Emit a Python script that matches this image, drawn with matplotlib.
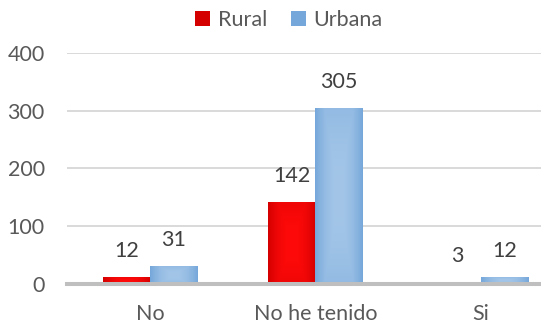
import numpy as np
import matplotlib
matplotlib.use("Agg")
import matplotlib.pyplot as plt
from matplotlib.patches import Patch
from matplotlib.colors import to_rgb

categories = ["No", "No he tenido", "Si"]
rural = [12, 142, 3]
urbana = [31, 305, 12]
series_names = ["Rural", "Urbana"]
yticks = [0, 100, 200, 300, 400]

plt.rcParams["font.family"] = ["Lato", "DejaVu Sans"]
FS = 15.5

fig = plt.figure(figsize=(5.41, 3.28), dpi=100)
ax = fig.add_axes([67 / 541, 1 - 283.5 / 328, (564 - 67) / 541, (283.5 - 53) / 328])

x = np.arange(len(categories))
w = 0.285
red_c, red_e = "#FF0A0A", "#D40000"
blue_c, blue_e = "#A3C6E8", "#76A7DA"


def shade(bars, center, edge):
    c = np.array(to_rgb(center))
    e = np.array(to_rgb(edge))
    for b in bars:
        x0, y0 = b.get_x(), b.get_y()
        bw, bh = b.get_width(), b.get_height()
        if bh <= 0:
            continue
        n = 60
        u = np.linspace(-1, 1, n)
        U, V = np.meshgrid(u, u)
        t = np.clip(np.maximum(np.abs(U), np.abs(V) * 0.6), 0, 1) ** 2
        img = c[None, None, :] * (1 - t[..., None]) + e[None, None, :] * t[..., None]
        ax.imshow(img, extent=[x0, x0 + bw, y0, y0 + bh], aspect="auto",
                  zorder=3, interpolation="bilinear")


b1 = ax.bar(x - w / 2, rural, w, color=red_c, zorder=3)
b2 = ax.bar(x + w / 2, urbana, w, color=blue_c, zorder=3)
shade(b1, red_c, red_e)
shade(b2, blue_c, blue_e)

for bars, vals in ((b1, rural), (b2, urbana)):
    for b, v in zip(bars, vals):
        ax.annotate(f"{v}", (b.get_x() + b.get_width() / 2, v),
                    xytext=(0, 18.5), textcoords="offset points",
                    ha="center", va="center", fontsize=FS, color="#404040")

ax.set_xlim(-0.5, len(categories) - 0.5)
ax.set_ylim(0, 400)
ax.set_yticks(yticks)
ax.set_xticks(x)
ax.set_xticklabels(categories)
ax.tick_params(axis="y", length=0, pad=16, labelsize=FS, labelcolor="#595959")
ax.tick_params(axis="x", length=0, pad=15, labelsize=FS, labelcolor="#595959")
ax.grid(axis="y", color="#D9D9D9", linewidth=1.4, zorder=0)
ax.set_axisbelow(True)
for s in ("top", "right", "left"):
    ax.spines[s].set_visible(False)
ax.spines["bottom"].set_color("#BFBFBF")
ax.spines["bottom"].set_linewidth(2.9)
ax.spines["bottom"].set_zorder(4)

handles = [Patch(facecolor=red_e, edgecolor="none"), Patch(facecolor=blue_e, edgecolor="none")]
fig.legend(handles, series_names, loc="center", bbox_to_anchor=(289 / 541, 1 - 20 / 328),
           ncol=2, frameon=False, fontsize=FS, handlelength=0.7, handleheight=0.7,
           handletextpad=0.35, columnspacing=1.1, labelcolor="#595959")

fig.savefig("out.png", dpi=100)
